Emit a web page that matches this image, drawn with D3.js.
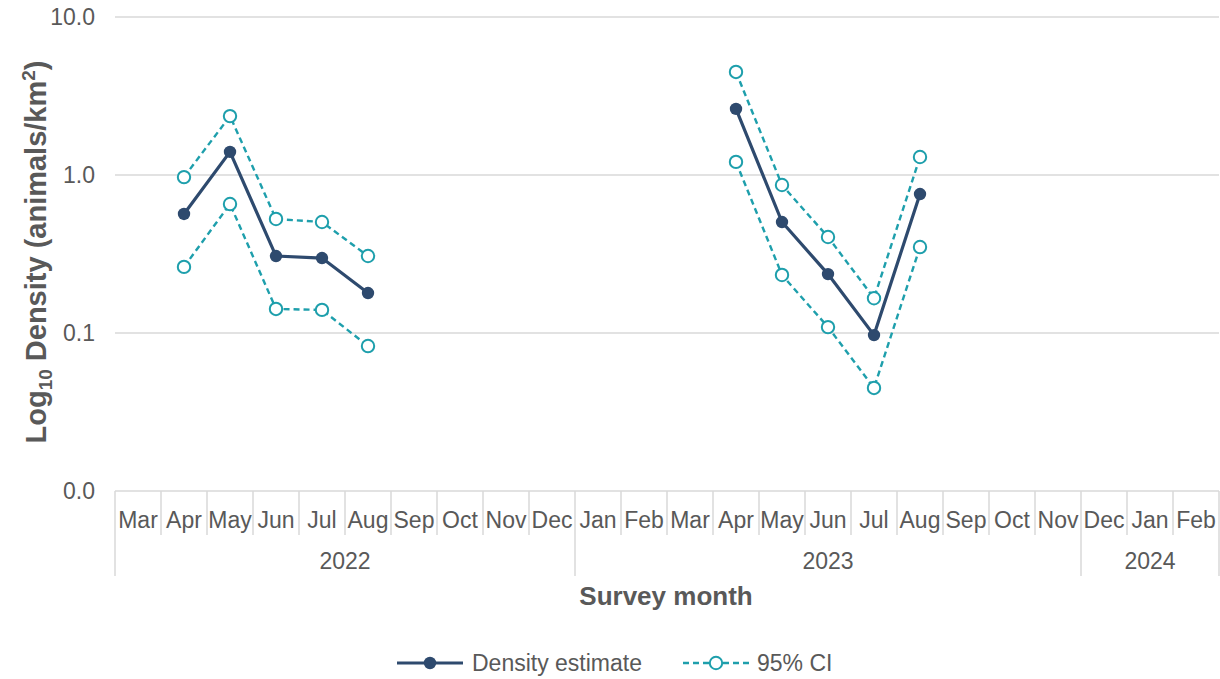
<!DOCTYPE html>
<html><head><meta charset="utf-8">
<script src="https://cdn.jsdelivr.net/npm/d3@7"></script>
<style>body{margin:0;background:#fff}svg{display:block;font-family:"Liberation Sans",Arial,sans-serif}</style>
</head><body><svg id="c" width="1220" height="679"></svg>
<script>
const months = ["Mar","Apr","May","Jun","Jul","Aug","Sep","Oct","Nov","Dec","Jan","Feb","Mar","Apr","May","Jun","Jul","Aug","Sep","Oct","Nov","Dec","Jan","Feb"];
const years = [{label:"2022", start:0, end:10},{label:"2023", start:10, end:21},{label:"2024", start:21, end:24}];
const yTicks = [0.01, 0.1, 1, 10];
// index into months, value
const estimate = [[1,0.567],[2,1.40],[3,0.307],[4,0.298],[5,0.179],null,[13,2.62],[14,0.504],[15,0.236],[16,0.097],[17,0.758]];
const upperCI = [[1,0.97],[2,2.36],[3,0.527],[4,0.504],[5,0.307],null,[13,4.49],[14,0.864],[15,0.405],[16,0.166],[17,1.30]];
const lowerCI = [[1,0.262],[2,0.655],[3,0.142],[4,0.140],[5,0.0827],null,[13,1.21],[14,0.233],[15,0.109],[16,0.0449],[17,0.350]];

const svg = d3.select("#c");
const L = 115, R = 1219, T = 17, B = 491;
const FS = 23;
const x = d3.scaleBand().domain(d3.range(months.length)).range([L,R]).padding(0);
const y = d3.scaleLog().domain([0.01,10]).range([B,T]);
const grid = "#d9d9d9", txt = "#595959";
const navy = "#2E4A6E", teal = "#1E9FAC";

// gridlines
svg.append("g").selectAll("line").data(yTicks.filter(d=>d>0.01)).join("line")
  .attr("x1",L).attr("x2",R).attr("y1",d=>y(d)).attr("y2",d=>y(d))
  .attr("stroke",grid).attr("stroke-width",1.5);

// y axis labels
const yAxis = d3.axisLeft(y).tickValues(yTicks).tickFormat(d3.format(".1f")).tickSize(0).tickPadding(20);
const ya = svg.append("g").attr("transform",`translate(${L},0)`).call(yAxis);
ya.select(".domain").remove();
ya.selectAll("text").attr("font-size",FS).attr("fill",txt).attr("font-family","Liberation Sans, Arial, sans-serif");

// x axis baseline
svg.append("line").attr("x1",L).attr("x2",R).attr("y1",B).attr("y2",B).attr("stroke",grid).attr("stroke-width",1.5);
// month separators
const seps = d3.range(months.length+1);
const yearBounds = new Set(years.flatMap(d=>[d.start,d.end]));
svg.append("g").selectAll("line").data(seps).join("line")
  .attr("x1",i=> i<months.length ? x(i) : R).attr("x2",i=> i<months.length ? x(i) : R)
  .attr("y1",B).attr("y2",i=> yearBounds.has(i) ? 576 : 535)
  .attr("stroke",grid).attr("stroke-width",1.5);
// month labels
svg.append("g").selectAll("text").data(months).join("text")
  .attr("x",(d,i)=>x(i)+x.bandwidth()/2).attr("y",528)
  .attr("text-anchor","middle").attr("font-size",FS).attr("fill",txt).text(d=>d);
// year labels
svg.append("g").selectAll("text").data(years).join("text")
  .attr("x",d=>(x(d.start) + (d.end<months.length?x(d.end):R))/2).attr("y",569)
  .attr("text-anchor","middle").attr("font-size",FS).attr("fill",txt).text(d=>d.label);

// axis titles
svg.append("text").attr("x",666).attr("y",605).attr("text-anchor","middle")
  .attr("font-size",26).attr("font-weight","bold").attr("fill",txt).text("Survey month");
const yt = svg.append("text").attr("transform","translate(46,252) rotate(-90)").attr("text-anchor","middle")
  .attr("font-size",29).attr("font-weight","bold").attr("fill",txt);
yt.append("tspan").text("Log");
yt.append("tspan").attr("font-size",19).attr("dy",6).text("10");
yt.append("tspan").attr("dy",-6).text(" Density (animals/km");
yt.append("tspan").attr("font-size",19).attr("dy",-11).text("2");
yt.append("tspan").attr("dy",11).text(")");

const cx = d => x(d[0]) + x.bandwidth()/2;
const line = d3.line().defined(d=>d!==null).x(cx).y(d=>y(d[1]));

function drawCI(data){
  svg.append("path").datum(data).attr("d",line).attr("fill","none")
    .attr("stroke",teal).attr("stroke-width",2.4).attr("stroke-dasharray","6,4");
  svg.append("g").selectAll("circle").data(data.filter(d=>d)).join("circle")
    .attr("cx",cx).attr("cy",d=>y(d[1])).attr("r",6.2)
    .attr("fill","#fff").attr("stroke",teal).attr("stroke-width",2);
}
drawCI(upperCI);
drawCI(lowerCI);
svg.append("path").datum(estimate).attr("d",line).attr("fill","none")
  .attr("stroke",navy).attr("stroke-width",3.2);
svg.append("g").selectAll("circle").data(estimate.filter(d=>d)).join("circle")
  .attr("cx",cx).attr("cy",d=>y(d[1])).attr("r",6.2).attr("fill",navy);

// legend
const lg = svg.append("g");
lg.append("line").attr("x1",397).attr("x2",463).attr("y1",663).attr("y2",663).attr("stroke",navy).attr("stroke-width",3.2);
lg.append("circle").attr("cx",430).attr("cy",663).attr("r",6.2).attr("fill",navy);
lg.append("text").attr("x",472).attr("y",671).attr("font-size",FS).attr("fill",txt).text("Density estimate");
lg.append("line").attr("x1",683).attr("x2",750).attr("y1",663).attr("y2",663).attr("stroke",teal).attr("stroke-width",2.4).attr("stroke-dasharray","6,4");
lg.append("circle").attr("cx",716).attr("cy",663).attr("r",6.2).attr("fill","#fff").attr("stroke",teal).attr("stroke-width",2);
lg.append("text").attr("x",757).attr("y",671).attr("font-size",FS).attr("fill",txt).text("95% CI");
</script></body></html>
